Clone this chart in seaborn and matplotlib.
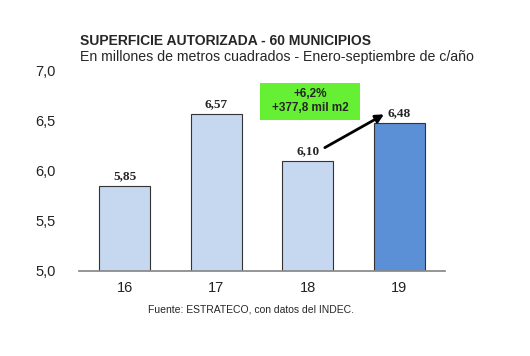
import matplotlib
matplotlib.use("Agg")
import matplotlib.pyplot as plt
import seaborn as sns
import pandas as pd

years = ["16", "17", "18", "19"]
values = [5.85, 6.57, 6.10, 6.48]
value_labels = ["5,85", "6,57", "6,10", "6,48"]
yticks = [5.0, 5.5, 6.0, 6.5, 7.0]
ytick_labels = ["5,0", "5,5", "6,0", "6,5", "7,0"]
colors = ["#C6D7F0", "#C6D7F0", "#C6D7F0", "#5B8FD6"]

sns.set_theme(style="white")
plt.rcParams['font.family'] = ['Liberation Sans', 'DejaVu Sans']

df = pd.DataFrame({"year": years, "value": values})

fig = plt.figure(figsize=(5.3, 3.56), dpi=100)
ax = fig.add_axes([79/530, 1-271/356, 366/530, 200/356])
sns.barplot(data=df, x="year", y="value", hue="year", palette=colors, legend=False,
            width=0.56, edgecolor="#333333", linewidth=0.8, ax=ax, saturation=1)
ax.set_ylim(5.0, 7.0)
ax.set_xlim(-0.5, 3.5)
ax.set_yticks(yticks)
ax.set_yticklabels(ytick_labels, fontsize=10.5)
ax.set_xlabel("")
ax.set_ylabel("")
for s in ["top", "right", "left"]:
    ax.spines[s].set_visible(False)
ax.spines["bottom"].set_color("#888888")
ax.tick_params(axis="y", length=0, pad=17, labelsize=10.5, colors="#222222")
ax.set_xticks([0, 1, 2, 3])
ax.set_xticklabels(years, fontsize=10.5, color="#222222")
ax.tick_params(axis="x", length=0, pad=7)
ax.set_xticks([-0.5, 0.5, 1.5, 2.5, 3.5], minor=True)
ax.tick_params(axis="x", which="minor", length=4, color="#888888", direction="out")

for i, (v, lab) in enumerate(zip(values, value_labels)):
    ax.text(i, v + 0.04, lab, ha="center", va="bottom", fontsize=9.5,
            fontweight="bold", family=["Liberation Serif", "DejaVu Serif"])

ax.annotate("", xy=(2.86, 6.58), xytext=(2.16, 6.22),
            arrowprops=dict(arrowstyle="-|>", color="black", lw=2, mutation_scale=12))

fig.patches.append(plt.Rectangle((260/530, 1-120/356), 100/530, 37/356,
                                 transform=fig.transFigure, facecolor="#66F033",
                                 edgecolor="none", zorder=0))
fig.text(310/530, 1-101/356, "+6,2%\n+377,8 mil m2", ha="center", va="center",
         fontsize=8.5, fontweight="bold", linespacing=1.3)

fig.text(80/530, 1-41/356, "SUPERFICIE AUTORIZADA - 60 MUNICIPIOS", ha="left", va="center",
         fontsize=10, fontweight="bold")
fig.text(80/530, 1-57/356, "En millones de metros cuadrados - Enero-septiembre de c/año",
         ha="left", va="center", fontsize=10.2)
fig.text(251/530, 1-310/356, "Fuente: ESTRATECO, con datos del INDEC.", ha="center",
         va="center", fontsize=7.5)

fig.savefig("out.png", dpi=100)
